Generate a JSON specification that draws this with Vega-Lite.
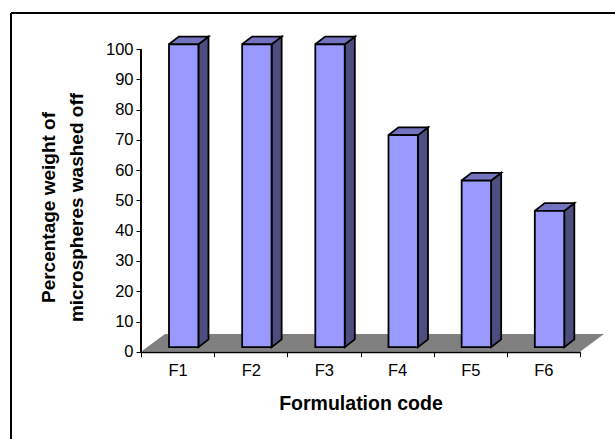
{
"$schema":"https://vega.github.io/schema/vega-lite/v6.json",
"width":604,"height":426,
"autosize":{"type":"none"},
"padding":{"left":11,"top":13,"right":0,"bottom":0},
"background":"white",
"config":{"view":{"stroke":null},"font":"Liberation Sans"},
"data":{"values":[
{"code":"F1","value":100},{"code":"F2","value":100},{"code":"F3","value":100},
{"code":"F4","value":70},{"code":"F5","value":55},{"code":"F6","value":45}]},
"encoding":{
 "x":{"field":"code","type":"nominal","sort":null,
  "scale":{"domain":["F1","F2","F3","F4","F5","F6"],"range":[130,569],"paddingInner":0,"paddingOuter":0},
  "axis":{"title":"Formulation code","titleFontSize":19.5,"titleFontWeight":"bold","titleColor":"#000","titlePadding":15,"labelFontSize":16.5,"labelAngle":0,"labelColor":"#000","labelPadding":6,"offset":-87.3,"tickBand":"extent","tickColor":"#000","tickSize":5,"tickWidth":1,"domainColor":"#000","domainWidth":2,"grid":false}},
 "y":{"field":"value","type":"quantitative",
  "scale":{"domain":[-28.8,111.9],"nice":false,"zero":false},
  "axis":{"title":["Percentage weight of","microspheres washed off"],"titleFontSize":19,"titleFontWeight":"bold","titleColor":"#000","titleX":-83,"titleY":194,"titleLineHeight":28,"labelFontSize":16.5,"labelColor":"#000","labelPadding":3,"offset":-130,"values":[0,10,20,30,40,50,60,70,80,90,100],"tickColor":"#000","tickSize":5,"tickWidth":1,"domain":false,"grid":false}}
},
"layer":[
 {"transform":[{"filter":"datum.code==='F1'||datum.code==='F6'"},{"calculate":"[0,1]","as":"v"},{"flatten":["v"]},
   {"calculate":"datum.code==='F1'?[-36.6,-12.6][datum.v]:[60.6,36.6][datum.v]","as":"dx"},
   {"calculate":"datum.code==='F1'?[0,-17.7][datum.v]:[-17.7,0][datum.v]","as":"dy"},
   {"calculate":"(datum.code==='F1'?0:2)+datum.v","as":"ord"},{"calculate":"0","as":"zero"}],
  "mark":{"type":"line","fill":"#808080","stroke":null,"xOffset":{"expr":"datum.dx"},"yOffset":{"expr":"datum.dy"}},
  "encoding":{"y":{"field":"zero","type":"quantitative"},"order":{"field":"ord","type":"quantitative"}}},
 {"transform":[{"calculate":"[0,1,2,3,4]","as":"v"},{"flatten":["v"]},
   {"calculate":"[20.9,30.9,30.9,20.9,20.9][datum.v]","as":"dx"},
   {"calculate":"[-4.7,-12.4,-12.4,-4.7,-4.7][datum.v]","as":"dy"},
   {"calculate":"[datum.value,datum.value,0,0,datum.value][datum.v]","as":"yv"}],
  "mark":{"type":"line","fill":"#4D4D80","stroke":"#000","strokeWidth":1.8,"xOffset":{"expr":"datum.dx"},"yOffset":{"expr":"datum.dy"}},
  "encoding":{"y":{"field":"yv","type":"quantitative"},"detail":{"field":"code"},"order":{"field":"v","type":"quantitative"}}},
 {"transform":[{"calculate":"[0,1,2,3,4]","as":"v"},{"flatten":["v"]},
   {"calculate":"[-8.7,20.9,30.9,1.3,-8.7][datum.v]","as":"dx"},
   {"calculate":"[-4.7,-4.7,-12.4,-12.4,-4.7][datum.v]","as":"dy"}],
  "mark":{"type":"line","fill":"#7373BF","stroke":"#000","strokeWidth":1.8,"xOffset":{"expr":"datum.dx"},"yOffset":{"expr":"datum.dy"}},
  "encoding":{"detail":{"field":"code"},"order":{"field":"v","type":"quantitative"}}},
 {"mark":{"type":"bar","width":29.4,"color":"#9999FF","stroke":"#000","strokeWidth":1.8,"xOffset":6.1,"yOffset":-4.7,"y2Offset":-4.7},
  "encoding":{"y2":{"datum":0}}},
 {"mark":{"type":"rule","color":"#000","strokeWidth":1.5},
  "encoding":{"x":{"datum":"F1","type":"nominal","bandPosition":0},"y":{"datum":0,"type":"quantitative"},"y2":{"datum":100}}},
 {"mark":{"type":"rule","color":"#000","strokeWidth":2},
  "encoding":{"x":null,"y":{"datum":111.9,"type":"quantitative"}}},
 {"mark":{"type":"rule","color":"#000","strokeWidth":2,"xOffset":-130},
  "encoding":{"x":{"datum":"F1","type":"nominal","bandPosition":0},"y":null}}
]
}
